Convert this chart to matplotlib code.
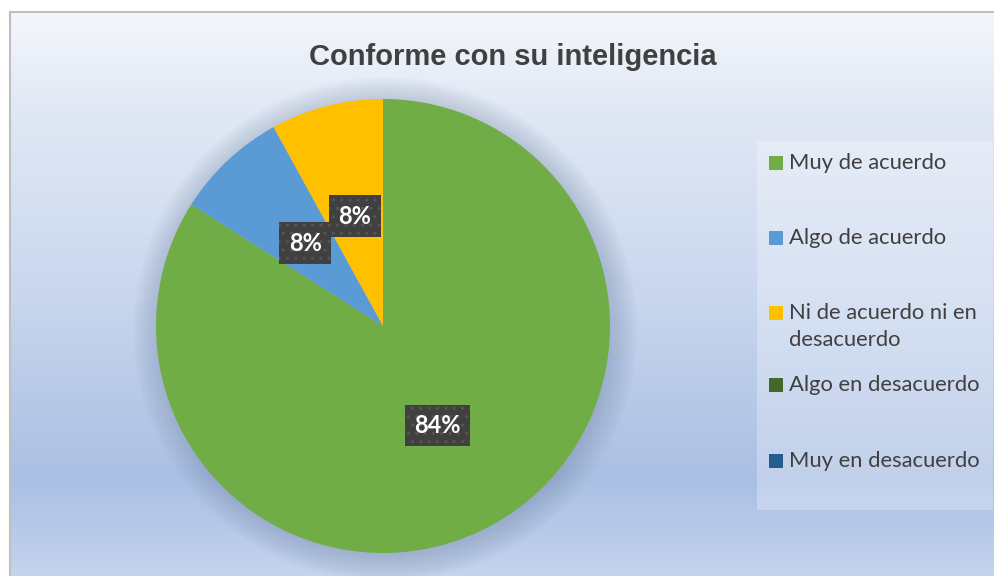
import numpy as np
import matplotlib
matplotlib.use("Agg")
import matplotlib.pyplot as plt
from matplotlib.colors import LinearSegmentedColormap
from matplotlib.patches import Rectangle, Circle

title = "Conforme con su inteligencia"
categories = ["Muy de acuerdo", "Algo de acuerdo", "Ni de acuerdo ni en\ndesacuerdo",
              "Algo en desacuerdo", "Muy en desacuerdo"]
values = [84, 8, 8, 0, 0]
colors = ["#70ad47", "#5b9bd5", "#ffc000", "#43682b", "#255e91"]

W, H = 995, 576
fig = plt.figure(figsize=(W / 100, H / 100), dpi=100)
fig.patch.set_facecolor("white")

# chart area background gradient
x0, y0 = 10, 12
bg = fig.add_axes([x0 / W, 0, 1 - x0 / W, (H - y0) / H])
grad = LinearSegmentedColormap.from_list(
    "bg", [(0.0, "#f4f6fb"), (0.16, "#e2e9f5"), (0.51, "#c8d6ee"),
           (0.83, "#aabfe3"), (1.0, "#c4d4ee")])
bg.imshow(np.linspace(0, 1, 256)[:, None], aspect="auto", cmap=grad,
          extent=[0, 1, 0, 1], origin="upper")
bg.set_xlim(0, 1); bg.set_ylim(0, 1)
bg.set_xticks([]); bg.set_yticks([])
for s in bg.spines.values():
    s.set_visible(False)
bg.spines["left"].set_visible(True); bg.spines["top"].set_visible(True)
bg.spines["left"].set_color("#bfbfbf"); bg.spines["top"].set_color("#bfbfbf")
bg.spines["left"].set_linewidth(1.5); bg.spines["top"].set_linewidth(1.5)

fig.text(513 / W, 1 - 57 / H, title, ha="center", va="center", fontsize=21,
         fontweight="bold", color="#404040", family="Liberation Sans")

# pie
cx, cy, r = 383, 326, 227
ax = fig.add_axes([(cx - r) / W, (H - cy - r) / H, 2 * r / W, 2 * r / H])
ax.set_xlim(-1, 1); ax.set_ylim(-1, 1)
ax.set_aspect("equal"); ax.axis("off")
for k in range(12):
    ax.add_patch(Circle((0.01, -0.015), 1.0 + 0.01 * k, color="#7083a3",
                        alpha=0.03, lw=0, zorder=0, clip_on=False))
wedges, _, autotexts = ax.pie(values, colors=colors, startangle=90, counterclock=False,
                              radius=1.0, autopct=lambda p: f"{p:.0f}%" if p > 0 else "",
                              pctdistance=0.5,
                              wedgeprops=dict(linewidth=0),
                              textprops=dict(color="white", fontsize=17, fontweight="bold",
                                             family="Lato"))
ax.set_xlim(-1, 1); ax.set_ylim(-1, 1)
for t in autotexts:
    t.set_zorder(5)
    if t.get_text():
        t.set_bbox(dict(boxstyle="square,pad=0.4", fc="#404040", ec="#555555", lw=0,
                        hatch=".."))

# legend
lx0, ly0, lx1, ly1 = 757, 141, 993, 510
fig.patches.append(Rectangle((lx0 / W, 1 - ly1 / H), (lx1 - lx0) / W, (ly1 - ly0) / H,
                             transform=fig.transFigure, fc="white", alpha=0.28, lw=0))
rows = [163, 238, 313, 385, 461]
for lab, col, yy in zip(categories, colors, rows):
    fig.patches.append(Rectangle((769 / W, 1 - (yy + 7) / H), 14 / W, 14 / H,
                                 transform=fig.transFigure, fc=col, lw=0))
    fig.text(789 / W, 1 - (yy - 10) / H, lab, ha="left", va="top", fontsize=15.8,
             color="#404040", family="Lato", linespacing=1.45)

fig.savefig("out.png", dpi=100)
